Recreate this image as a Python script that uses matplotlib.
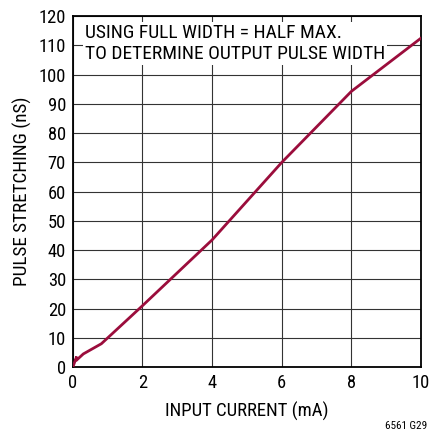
import matplotlib
matplotlib.use('Agg')
import matplotlib.pyplot as plt
from matplotlib import font_manager as fm

# condensed sans to mimic the datasheet lettering, fall back to Roboto
installed = {f.name for f in fm.fontManager.ttflist}
cand = ['Roboto Condensed', 'Liberation Sans Narrow', 'Archivo Narrow', 'PT Sans Narrow', 'Roboto']
font = next((c for c in cand if c in installed), 'DejaVu Sans')
plt.rcParams['font.family'] = [font, 'DejaVu Sans']

# data
current_ma = [0, 0.11, 0.09, 0.3, 0.82, 2, 4, 6, 8, 10]
stretch_ns = [0, 3.6, 2.2, 4.5, 8, 21, 43.5, 70, 94.3, 112.5]
x_ticks = [0, 2, 4, 6, 8, 10]
y_ticks = list(range(0, 121, 10))

fig = plt.figure(figsize=(4.31, 4.36), dpi=100)
ax = fig.add_axes([0.169, 0.158, 0.808, 0.805])

ax.plot(current_ma, stretch_ns, color='#9b0d3c', linewidth=2.0, solid_joinstyle='miter', zorder=5)

ax.set_xlim(0, 10)
ax.set_ylim(0, 120)
ax.set_xticks(x_ticks)
ax.set_yticks(y_ticks)
ax.grid(True, color='#333333', linewidth=0.8)
ax.tick_params(length=0, labelsize=13.3, pad=5)
for s in ax.spines.values():
    s.set_linewidth(1.3)
    s.set_color('black')

ax.set_xlabel('INPUT CURRENT (mA)', fontsize=13.5, labelpad=7)
ax.set_ylabel('PULSE STRETCHING (nS)', fontsize=13.8, labelpad=5)

ax.text(0.35, 117.3, 'USING FULL WIDTH = HALF MAX.\nTO DETERMINE OUTPUT PULSE WIDTH',
        fontsize=14, va='top', ha='left', linespacing=1.18,
        bbox=dict(facecolor='white', edgecolor='none', pad=1.5), zorder=4)

fig.text(0.99, 0.012, '6561 G29', fontsize=8, ha='right', va='bottom')

plt.savefig('out.png', dpi=100)
